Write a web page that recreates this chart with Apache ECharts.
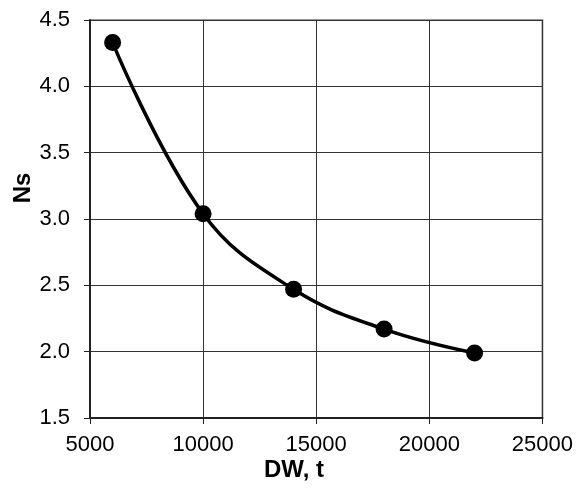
<!DOCTYPE html>
<html><head><meta charset="utf-8">
<script src="https://cdn.jsdelivr.net/npm/echarts@6/dist/echarts.min.js"></script>
<style>html,body{margin:0;padding:0;background:#fff}#c{width:576px;height:491px}</style>
</head><body><div id="c"></div>
<script>
const dw = [6000, 10000, 14000, 18000, 22000];
const ns = [4.33, 3.04, 2.47, 2.17, 1.99];
const xTitle = 'DW, t';
const yTitle = 'Ns';
const chart = echarts.init(document.getElementById('c'));
const font = 'Liberation Sans, Arial, sans-serif';
chart.setOption({
  animation: false,
  grid: {left: 90, right: 30, top: 20, bottom: 73, show: true, borderColor: '#999', borderWidth: 2},
  graphic: [
    {type: 'text', x: 294, y: 470,
     style: {text: xTitle, font: 'bold 24px Liberation Sans, Arial, sans-serif', fill: '#000',
             textAlign: 'center', textVerticalAlign: 'middle'}},
    {type: 'text', x: 23, y: 188, rotation: Math.PI / 2,
     style: {text: yTitle, font: 'bold 24px Liberation Sans, Arial, sans-serif', fill: '#000',
             textAlign: 'center', textVerticalAlign: 'middle'}}
  ],
  xAxis: {
    type: 'value', min: 5000, max: 25000, interval: 5000,
    axisLine: {lineStyle: {color: '#222', width: 2}},
    axisTick: {show: true, length: 6, lineStyle: {color: '#222', width: 1}},
    axisLabel: {fontFamily: font, fontSize: 22, color: '#000', margin: 16,
      formatter: v => String(v)},
    splitLine: {show: true, lineStyle: {color: '#333', width: 1}}
  },
  yAxis: {
    type: 'value', min: 1.5, max: 4.5, interval: 0.5,
    axisLine: {show: true, lineStyle: {color: '#222', width: 2}},
    axisTick: {show: true, length: 6, lineStyle: {color: '#222', width: 1}},
    axisLabel: {fontFamily: font, fontSize: 22, color: '#000', margin: 20,
      formatter: v => v.toFixed(1)},
    splitLine: {show: true, lineStyle: {color: '#333', width: 1}}
  },
  series: [{
    type: 'line', data: dw.map((x, i) => [x, ns[i]]),
    smooth: 0.4, symbol: 'circle', symbolSize: 17,
    lineStyle: {color: '#000', width: 3.5},
    itemStyle: {color: '#000'}
  }]
});
</script></body></html>
